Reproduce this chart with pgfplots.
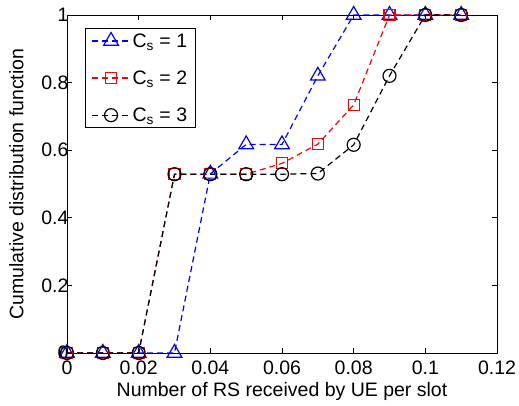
\documentclass[border=0pt]{standalone}
\usepackage{fontspec}
\setmainfont{Liberation Sans}
\usepackage{pgfplots}
\pgfplotsset{compat=1.18}
\begin{document}
\begin{tikzpicture}
\path[use as bounding box] (0,0) rectangle (519bp,406bp);
\begin{axis}[
  at={(67bp,53bp)}, anchor=south west,
  scale only axis, width=430bp, height=338bp,
  xmin=0, xmax=0.12, ymin=0, ymax=1,
  xtick={0,0.02,0.04,0.06,0.08,0.1,0.12},
  xticklabels={0,0.02,0.04,0.06,0.08,0.1,0.12},
  ytick={0,0.2,0.4,0.6,0.8,1},
  yticklabels={0,0.2,0.4,0.6,0.8,1},
  tick align=inside, major tick length=5bp,
  tick style={black, line width=0.6bp},
  axis line style={line width=0.9bp},
  font=\fontsize{19.5bp}{23bp}\selectfont,
  tick label style={font=\fontsize{19.5bp}{23bp}\selectfont},
  xticklabel style={yshift=-4bp},
  yticklabel style={xshift=5bp},
  xlabel={Number of RS received by UE per slot},
  ylabel={Cumulative distribution function},
  xlabel style={yshift=-1bp},
  ylabel style={yshift=11bp},
  clip=false,
  legend style={at={(0,1)}, anchor=north west, xshift=18bp, yshift=-13bp,
    draw=black, line width=0.9bp, font=\fontsize{19.5bp}{23bp}\selectfont,
    row sep=18bp, inner xsep=6bp, inner ysep=3bp},
  legend cell align=left,
  legend image code/.code={\draw[mark repeat=2,mark phase=2] plot coordinates {(0bp,0bp) (19bp,0bp) (38bp,0bp)};},
]
\addplot[blue, line width=1.2bp, dash pattern=on 6bp off 4bp, mark=triangle, mark size=8.5bp, mark options={solid}]
coordinates {(0,0) (0.01,0) (0.02,0) (0.03,0) (0.04,0.53) (0.05,0.617) (0.06,0.617) (0.07,0.82) (0.08,1) (0.09,1) (0.1,1) (0.11,1)};
\addlegendentry{C\textsubscript{s} = 1}
\addplot[red, line width=1.2bp, dash pattern=on 6bp off 4bp, mark=square, mark size=5.5bp, mark options={solid}]
coordinates {(0,0) (0.01,0) (0.02,0) (0.03,0.529) (0.04,0.529) (0.05,0.529) (0.06,0.561) (0.07,0.618) (0.08,0.734) (0.09,1) (0.1,1) (0.11,1)};
\addlegendentry{C\textsubscript{s} = 2}
\addplot[black, line width=1.2bp, dash pattern=on 6bp off 4bp, mark=o, mark size=6.5bp, mark options={solid}]
coordinates {(0,0) (0.01,0) (0.02,0) (0.03,0.529) (0.04,0.529) (0.05,0.529) (0.06,0.529) (0.07,0.531) (0.08,0.616) (0.09,0.82) (0.1,1) (0.11,1)};
\addlegendentry{C\textsubscript{s} = 3}
\end{axis}
\end{tikzpicture}
\end{document}
